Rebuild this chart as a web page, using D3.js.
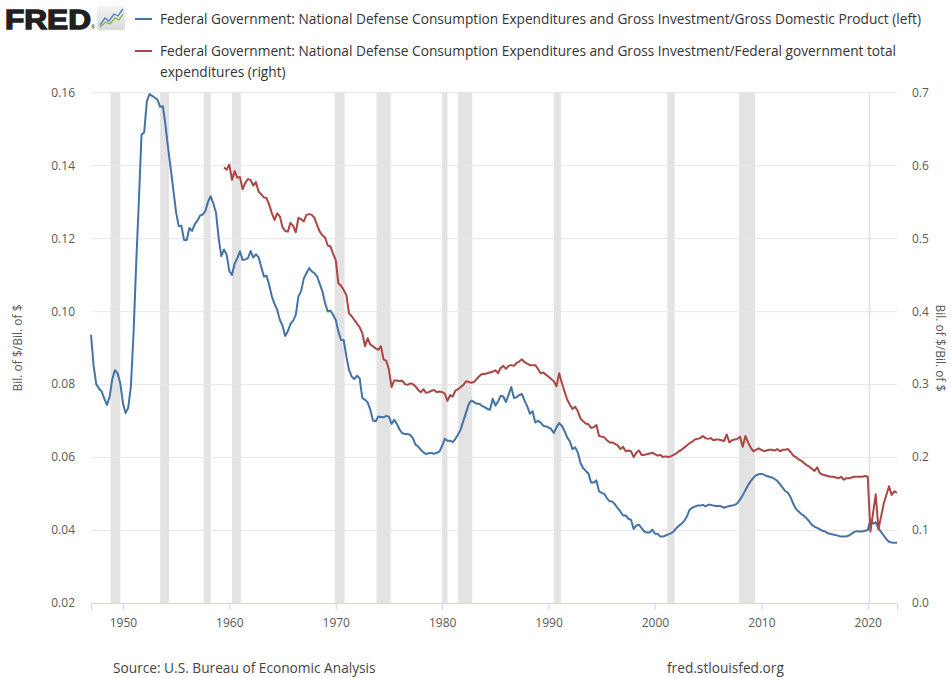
<!DOCTYPE html>
<html>
<head>
<meta charset="utf-8">
<script src="https://cdn.jsdelivr.net/npm/d3@7"></script>
<style>
    body { margin: 0; background: #fff; }
    svg { font-family: 'Open Sans', sans-serif; }
</style>
</head>
<body>
<svg id="chart" width="951" height="678"></svg>
<script>
// quarterly, from 1947 Q1 (left axis)
const defenseToGdp = [
    0.0935, 0.0850, 0.0800, 0.0788,  0.0780, 0.0760, 0.0743, 0.0765,
    0.0814, 0.0838, 0.0830, 0.0803,  0.0748, 0.0721, 0.0735, 0.0793,
    0.0940, 0.1130, 0.1300, 0.1484,  0.1490, 0.1575, 0.1595, 0.1590,
    0.1585, 0.1580, 0.1560, 0.1562,  0.1510, 0.1447, 0.1390, 0.1330,
    0.1270, 0.1233, 0.1234, 0.1195,  0.1195, 0.1228, 0.1220, 0.1238,
    0.1248, 0.1262, 0.1265, 0.1275,  0.1300, 0.1315, 0.1295, 0.1270,
    0.1200, 0.1151, 0.1169, 0.1155,  0.1110, 0.1099, 0.1130, 0.1145,
    0.1164, 0.1140, 0.1142, 0.1145,  0.1165, 0.1147, 0.1156, 0.1148,
    0.1122, 0.1095, 0.1097, 0.1072,  0.1040, 0.1020, 0.1004, 0.0976,
    0.0960, 0.0932, 0.0945, 0.0965,  0.0974, 0.0990, 0.1041, 0.1055,
    0.1090, 0.1104, 0.1118, 0.1109,  0.1104, 0.1095, 0.1075, 0.1054,
    0.1022, 0.0999, 0.1002, 0.0990,  0.0976, 0.0944, 0.0921, 0.0921,
    0.0876, 0.0839, 0.0821, 0.0814,  0.0823, 0.0816, 0.0762, 0.0757,
    0.0750, 0.0730, 0.0700, 0.0698,  0.0711, 0.0710, 0.0709, 0.0713,
    0.0711, 0.0691, 0.0702, 0.0691,  0.0675, 0.0666, 0.0663, 0.0663,
    0.0661, 0.0652, 0.0634, 0.0629,  0.0620, 0.0613, 0.0608, 0.0611,
    0.0611, 0.0609, 0.0612, 0.0615,  0.0631, 0.0650, 0.0645, 0.0645,
    0.0641, 0.0650, 0.0662, 0.0676,  0.0700, 0.0722, 0.0745, 0.0755,
    0.0751, 0.0746, 0.0746, 0.0740,  0.0737, 0.0732, 0.0730, 0.0760,
    0.0741, 0.0752, 0.0768, 0.0766,  0.0751, 0.0771, 0.0792, 0.0762,
    0.0764, 0.0770, 0.0773, 0.0755,  0.0739, 0.0719, 0.0726, 0.0695,
    0.0699, 0.0695, 0.0686, 0.0684,  0.0681, 0.0677, 0.0666, 0.0682,
    0.0693, 0.0686, 0.0672, 0.0654,  0.0643, 0.0622, 0.0627, 0.0613,
    0.0584, 0.0570, 0.0562, 0.0555,  0.0530, 0.0530, 0.0536, 0.0506,
    0.0502, 0.0499, 0.0487, 0.0479,  0.0478, 0.0470, 0.0460, 0.0451,
    0.0440, 0.0440, 0.0431, 0.0428,  0.0403, 0.0412, 0.0415, 0.0405,
    0.0396, 0.0393, 0.0393, 0.0401,  0.0390, 0.0390, 0.0382, 0.0382,
    0.0385, 0.0388, 0.0391, 0.0396,  0.0405, 0.0412, 0.0417, 0.0425,
    0.0437, 0.0455, 0.0461, 0.0464,  0.0467, 0.0467, 0.0469, 0.0465,
    0.0469, 0.0469, 0.0467, 0.0466,  0.0466, 0.0465, 0.0461, 0.0464,
    0.0466, 0.0467, 0.0469, 0.0473,  0.0484, 0.0495, 0.0509, 0.0523,
    0.0534, 0.0543, 0.0550, 0.0553,  0.0554, 0.0552, 0.0548, 0.0546,
    0.0544, 0.0540, 0.0535, 0.0526,  0.0516, 0.0507, 0.0502, 0.0490,
    0.0472, 0.0458, 0.0451, 0.0444,  0.0439, 0.0432, 0.0424, 0.0414,
    0.0409, 0.0406, 0.0402, 0.0398,  0.0396, 0.0391, 0.0389, 0.0388,
    0.0386, 0.0384, 0.0382, 0.0382,  0.0383, 0.0385, 0.0390, 0.0395,
    0.0397, 0.0396, 0.0396, 0.0398,  0.0400, 0.0428, 0.0418, 0.0421,
    0.0405, 0.0395, 0.0385, 0.0375,  0.0368, 0.0366, 0.0365, 0.0365
];

// quarterly, from 1959 Q3 (right axis)
const defenseToFederal = [
                  0.597, 0.594,
    0.601, 0.580, 0.592, 0.583,  0.584, 0.567, 0.576, 0.581,
    0.580, 0.572, 0.577, 0.564,  0.560, 0.556, 0.555, 0.546,
    0.534, 0.525, 0.534, 0.530,  0.515, 0.510, 0.509, 0.521,
    0.517, 0.508, 0.528, 0.526,  0.523, 0.532, 0.533, 0.532,
    0.528, 0.518, 0.509, 0.504,  0.501, 0.490, 0.489, 0.479,
    0.470, 0.438, 0.435, 0.429,  0.422, 0.397, 0.393, 0.388,
    0.383, 0.378, 0.370, 0.352,  0.363, 0.354, 0.352, 0.349,
    0.347, 0.352, 0.334, 0.332,  0.320, 0.296, 0.305, 0.305,
    0.304, 0.305, 0.300, 0.299,  0.301, 0.300, 0.297, 0.292,
    0.289, 0.293, 0.288, 0.289,  0.291, 0.292, 0.289, 0.290,
    0.289, 0.287, 0.277, 0.285,  0.283, 0.291, 0.293, 0.296,
    0.299, 0.304, 0.303, 0.302,  0.303, 0.307, 0.311, 0.314,
    0.314, 0.315, 0.316, 0.317,  0.319, 0.315, 0.322, 0.325,
    0.321, 0.325, 0.326, 0.325,  0.329, 0.331, 0.334, 0.330,
    0.328, 0.326, 0.326, 0.326,  0.321, 0.315, 0.316, 0.313,
    0.310, 0.307, 0.304, 0.297,  0.315, 0.302, 0.290, 0.279,
    0.272, 0.266, 0.269, 0.263,  0.253, 0.249, 0.246, 0.245,
    0.240, 0.241, 0.244, 0.229,  0.228, 0.227, 0.223, 0.220,
    0.220, 0.218, 0.216, 0.211,  0.214, 0.208, 0.209, 0.208,
    0.200, 0.206, 0.209, 0.203,  0.203, 0.204, 0.205, 0.206,
    0.204, 0.202, 0.203, 0.200,  0.201, 0.200, 0.201, 0.203,
    0.205, 0.208, 0.210, 0.213,  0.216, 0.219, 0.221, 0.224,
    0.225, 0.226, 0.229, 0.226,  0.225, 0.226, 0.223, 0.224,
    0.224, 0.223, 0.222, 0.231,  0.220, 0.223, 0.224, 0.225,
    0.228, 0.214, 0.229, 0.220,  0.213, 0.208, 0.210, 0.212,
    0.210, 0.208, 0.209, 0.210,  0.210, 0.209, 0.211, 0.208,
    0.210, 0.210, 0.211, 0.207,  0.202, 0.200, 0.197, 0.195,
    0.192, 0.189, 0.187, 0.184,  0.181, 0.186, 0.178, 0.176,
    0.175, 0.174, 0.173, 0.173,  0.172, 0.171, 0.173, 0.169,
    0.171, 0.171, 0.172, 0.173,  0.173, 0.173, 0.173, 0.174,
    0.173, 0.098, 0.123, 0.149,  0.101, 0.118, 0.136, 0.148,
    0.160, 0.148, 0.153, 0.151
];

const recessions = [
    ['1948-11-01', '1949-10-01'], ['1953-07-01', '1954-05-01'],
    ['1957-08-01', '1958-04-01'], ['1960-04-01', '1961-02-01'],
    ['1969-12-01', '1970-11-01'], ['1973-11-01', '1975-03-01'],
    ['1980-01-01', '1980-07-01'], ['1981-07-01', '1982-11-01'],
    ['1990-07-01', '1991-03-01'], ['2001-03-01', '2001-11-01'],
    ['2007-12-01', '2009-06-01'], ['2020-02-01', '2020-04-01']
];

const leftTicks = [0.02, 0.04, 0.06, 0.08, 0.10, 0.12, 0.14, 0.16];
const rightTicks = [0, 0.1, 0.2, 0.3, 0.4, 0.5, 0.6, 0.7];
const yearTicks = [1950, 1960, 1970, 1980, 1990, 2000, 2010, 2020];

const legendLines = [
    ['Federal Government: National Defense Consumption Expenditures and Gross Investment/Gross Domestic Product (left)'],
    ['Federal Government: National Defense Consumption Expenditures and Gross Investment/Federal government total',
     'expenditures (right)']
];
const axisTitle = 'Bil. of $/Bil. of $';

const blue = '#4572a7';
const red = '#aa4643';

const plot = { left: 91, right: 897, top: 92.3, bottom: 603 };

const toQuarters = (values, year, quarter) => values.map((value, i) => {
    const q = quarter - 1 + i;
    return { date: new Date(year + Math.floor(q / 4), (q % 4) * 3, 1), value };
});

const blueData = toQuarters(defenseToGdp, 1947, 1);
const redData = toQuarters(defenseToFederal, 1959, 3);

const svg = d3.select('#chart');

const xScale = d3.scaleTime()
    .domain([new Date(1947, 0, 1), new Date(2022, 9, 1)])
    .range([plot.left, plot.right]);

const yLeft = d3.scaleLinear()
    .domain([0.02, 0.16])
    .range([plot.bottom, plot.top]);

const yRight = d3.scaleLinear()
    .domain([0, 0.7])
    .range([plot.bottom, plot.top]);

// recession bands
svg.append('g')
    .selectAll('rect')
    .data(recessions)
    .enter()
    .append('rect')
    .attr('x', d => xScale(new Date(d[0])))
    .attr('y', plot.top)
    .attr('width', d => xScale(new Date(d[1])) - xScale(new Date(d[0])))
    .attr('height', plot.bottom - plot.top)
    .attr('fill', '#e3e3e3');

// grid + left labels
const leftAxis = svg.append('g')
    .attr('transform', `translate(${plot.left}, 0)`)
    .call(d3.axisLeft(yLeft)
        .tickValues(leftTicks)
        .tickFormat(d3.format('.2f'))
        .tickSize(-(plot.right - plot.left))
        .tickPadding(16));
leftAxis.select('.domain').remove();
leftAxis.selectAll('line')
    .attr('stroke', '#e6e6e6')
    .attr('stroke-width', 1)
    .filter(d => d === 0.02).remove();
leftAxis.selectAll('text')
    .attr('fill', '#595959')
    .style('font-size', '12px')
    .style('font-family', 'Open Sans');

const rightAxis = svg.append('g')
    .attr('transform', `translate(${plot.right}, 0)`)
    .call(d3.axisRight(yRight)
        .tickValues(rightTicks)
        .tickFormat(d3.format('.1f'))
        .tickSize(0)
        .tickPadding(15));
rightAxis.select('.domain').remove();
rightAxis.selectAll('text')
    .attr('fill', '#595959')
    .style('font-size', '12px')
    .style('font-family', 'Open Sans');

const xAxis = svg.append('g')
    .attr('transform', `translate(0, ${plot.bottom})`)
    .call(d3.axisBottom(xScale)
        .tickValues(yearTicks.map(y => new Date(y, 0, 1)))
        .tickFormat(d3.timeFormat('%Y'))
        .tickSize(7)
        .tickPadding(8));
xAxis.select('.domain').attr('stroke', '#ccd6eb');
xAxis.selectAll('line').attr('stroke', '#ccd6eb');
xAxis.selectAll('text')
    .attr('fill', '#595959')
    .style('font-size', '12px')
    .style('font-family', 'Open Sans');

// series
const leftLine = d3.line()
    .x(d => xScale(d.date))
    .y(d => yLeft(d.value));

const rightLine = d3.line()
    .x(d => xScale(d.date))
    .y(d => yRight(d.value));

svg.append('path')
    .datum(blueData)
    .attr('d', leftLine)
    .attr('fill', 'none')
    .attr('stroke', blue)
    .attr('stroke-width', 2)
    .attr('stroke-linejoin', 'round');

svg.append('path')
    .datum(redData)
    .attr('d', rightLine)
    .attr('fill', 'none')
    .attr('stroke', red)
    .attr('stroke-width', 2)
    .attr('stroke-linejoin', 'round');

// axis titles
svg.append('text')
    .attr('transform', `translate(22, 348) rotate(-90)`)
    .attr('text-anchor', 'middle')
    .attr('fill', '#595959')
    .style('font-size', '12px')
    .text(axisTitle);

svg.append('text')
    .attr('transform', `translate(936, 348) rotate(90)`)
    .attr('text-anchor', 'middle')
    .attr('fill', '#595959')
    .style('font-size', '12px')
    .text(axisTitle);

// legend
const legend = svg.append('g');
[[blue, 19], [red, 51]].forEach(([color, y], i) => {
    legend.append('line')
        .attr('x1', 135).attr('x2', 152)
        .attr('y1', y).attr('y2', y)
        .attr('stroke', color)
        .attr('stroke-width', 2);

    legendLines[i].forEach((t, j) => {
        legend.append('text')
            .attr('x', 160)
            .attr('y', y + j * 21)
            .attr('dy', '0.35em')
            .attr('fill', '#333')
            .style('font-size', '13.7px')
            .text(t);
    });
});

// FRED logo
const logo = svg.append('g');
logo.append('text')
    .attr('x', 5)
    .attr('y', 28.5)
    .attr('textLength', 86)
    .attr('lengthAdjust', 'spacingAndGlyphs')
    .attr('fill', '#231f20')
    .attr('stroke', '#231f20')
    .attr('stroke-width', 1.4)
    .style('font-family', 'Liberation Sans')
    .style('font-weight', 'bold')
    .style('font-size', '27px')
    .text('FRED');
logo.append('text')
    .attr('x', 91)
    .attr('y', 29)
    .attr('fill', '#231f20')
    .style('font-size', '5px')
    .text('®');

const grad = svg.append('defs')
    .append('linearGradient')
    .attr('id', 'logoBg')
    .attr('x1', 0).attr('y1', 0).attr('x2', 0).attr('y2', 1);
grad.append('stop').attr('offset', '0%').attr('stop-color', '#f4f4f4');
grad.append('stop').attr('offset', '100%').attr('stop-color', '#d9d9d9');

logo.append('rect')
    .attr('x', 97).attr('y', 6)
    .attr('width', 28).attr('height', 24)
    .attr('rx', 3)
    .attr('fill', 'url(#logoBg)');
logo.append('path')
    .attr('d', 'M100,25 L105,18 L109,21 L114,14 L118,16 L123,9')
    .attr('fill', 'none')
    .attr('stroke', '#4a7fc1')
    .attr('stroke-width', 1.3);
logo.append('path')
    .attr('d', 'M100,27 L106,22 L110,24 L115,18 L119,20 L123,14')
    .attr('fill', 'none')
    .attr('stroke', '#7cb342')
    .attr('stroke-width', 1.3);

// footer
svg.append('text')
    .attr('x', 113)
    .attr('y', 668)
    .attr('dy', '0.35em')
    .attr('fill', '#444')
    .style('font-size', '13.7px')
    .text('Source: U.S. Bureau of Economic Analysis');

svg.append('text')
    .attr('x', 667)
    .attr('y', 668)
    .attr('dy', '0.35em')
    .attr('fill', '#444')
    .style('font-size', '13.7px')
    .text('fred.stlouisfed.org');
</script>
</body>
</html>
